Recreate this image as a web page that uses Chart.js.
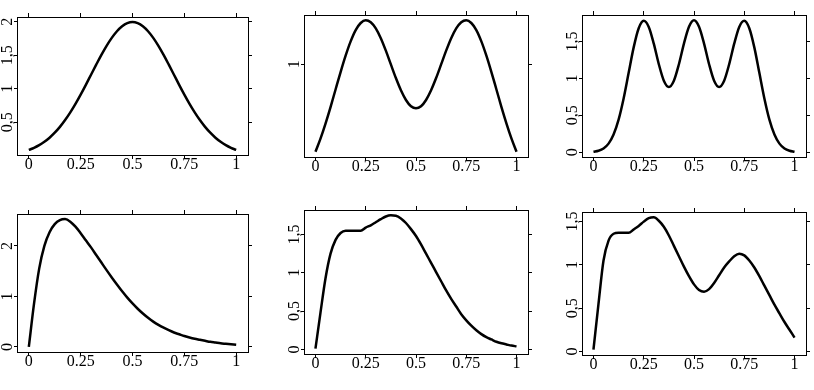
<!DOCTYPE html>
<html>
<head>
<meta charset="utf-8">
<script src="https://cdn.jsdelivr.net/npm/chart.js@4.4.0/dist/chart.umd.min.js"></script>
<style>
  body { margin: 0; background: #fff; }
  #wrap { position: relative; width: 814px; height: 390px; overflow: hidden; background: #fff; }
  #wrap canvas { position: absolute; }
</style>
</head>
<body>
<div id="wrap"></div>
<script>
// x grid shared by all six curves
const xs = [0, 0.025, 0.05, 0.075, 0.1, 0.125, 0.15, 0.175, 0.2, 0.225, 0.25, 0.275, 0.3, 0.325, 0.35, 0.375, 0.4,
  0.425, 0.45, 0.475, 0.5, 0.525, 0.55, 0.575, 0.6, 0.625, 0.65, 0.675, 0.7, 0.725, 0.75, 0.775, 0.8, 0.825, 0.85,
  0.875, 0.9, 0.925, 0.95, 0.975, 1];

// curve values
const gaussian = [0.088, 0.119, 0.159, 0.209, 0.270, 0.344, 0.431, 0.533, 0.648, 0.775, 0.913, 1.059, 1.210, 1.360,
  1.506, 1.641, 1.760, 1.859, 1.933, 1.979, 1.995, 1.979, 1.933, 1.859, 1.760, 1.641, 1.506, 1.360, 1.210, 1.059,
  0.913, 0.775, 0.648, 0.533, 0.431, 0.344, 0.270, 0.209, 0.159, 0.119, 0.088];
const bimodal = [0.332, 0.432, 0.547, 0.673, 0.807, 0.940, 1.065, 1.174, 1.260, 1.314, 1.335, 1.320, 1.273, 1.198,
  1.103, 0.998, 0.894, 0.801, 0.727, 0.679, 0.663, 0.679, 0.727, 0.801, 0.894, 0.998, 1.103, 1.198, 1.273, 1.320,
  1.335, 1.314, 1.260, 1.174, 1.065, 0.940, 0.807, 0.673, 0.547, 0.432, 0.332];
const trimodal = [0.007, 0.020, 0.051, 0.117, 0.240, 0.442, 0.729, 1.075, 1.420, 1.679, 1.780, 1.697, 1.470, 1.192,
  0.969, 0.884, 0.969, 1.192, 1.471, 1.699, 1.787, 1.699, 1.471, 1.192, 0.969, 0.884, 0.969, 1.192, 1.470, 1.697,
  1.780, 1.679, 1.420, 1.075, 0.729, 0.442, 0.240, 0.117, 0.051, 0.020, 0.007];
const skewed = [0.00, 0.85, 1.55, 2.00, 2.27, 2.43, 2.51, 2.53, 2.48, 2.38, 2.25, 2.11, 1.97, 1.82, 1.67, 1.52, 1.375,
  1.235, 1.10, 0.975, 0.86, 0.755, 0.66, 0.575, 0.50, 0.435, 0.38, 0.33, 0.285, 0.25, 0.215, 0.185, 0.16, 0.14, 0.12,
  0.10, 0.085, 0.07, 0.06, 0.05, 0.04];
const plateau = [0.01, 0.48, 0.93, 1.25, 1.43, 1.52, 1.55, 1.55, 1.55, 1.55, 1.59, 1.62, 1.66, 1.70, 1.735, 1.75,
  1.745, 1.71, 1.65, 1.57, 1.48, 1.37, 1.25, 1.13, 1.01, 0.89, 0.77, 0.66, 0.56, 0.46, 0.38, 0.31, 0.25, 0.20, 0.16,
  0.13, 0.10, 0.08, 0.065, 0.05, 0.04];
const bumpy = [0.02, 0.55, 1.05, 1.28, 1.36, 1.37, 1.37, 1.37, 1.41, 1.45, 1.50, 1.54, 1.55, 1.51, 1.44, 1.34, 1.22,
  1.10, 0.98, 0.87, 0.775, 0.71, 0.69, 0.72, 0.79, 0.88, 0.97, 1.04, 1.10, 1.13, 1.11, 1.05, 0.97, 0.87, 0.76, 0.65,
  0.54, 0.44, 0.34, 0.25, 0.16];

// tick values
const xTicks = [0, 0.25, 0.5, 0.75, 1];
const yTicksGaussian = [0.5, 1, 1.5, 2];
const yTicksBimodal = [1];
const yTicksHalf = [0, 0.5, 1, 1.5];
const yTicksSkewed = [0, 1, 2];

// plot boxes on the page: [left, top, right, bottom]
const panels = [
  { values: gaussian, yTicks: yTicksGaussian, box: [17, 17, 248, 155], labelPad: -3.7 },
  { values: bimodal, yTicks: yTicksBimodal, box: [304, 15, 528, 157], labelPad: 2.3 },
  { values: trimodal, yTicks: yTicksHalf, box: [582, 15, 806, 157], labelPad: -3.7 },
  { values: skewed, yTicks: yTicksSkewed, box: [17, 214, 248, 352], labelPad: 2.3 },
  { values: plateau, yTicks: yTicksHalf, box: [304, 210, 528, 354], labelPad: -3.7 },
  { values: bumpy, yTicks: yTicksHalf, box: [582, 212, 806, 355], labelPad: -3.7 }
];

const LEFT = 22, TOP = 14, RIGHT = 14, BOTTOM = 26;
const X_MIN = -0.057, X_MAX = 1.057;

Chart.defaults.font.family = "'Liberation Serif', 'Times New Roman', serif";
Chart.defaults.font.size = 16;
Chart.defaults.color = '#000';

function setTicks(list) {
  return scale => { scale.ticks = list.map(v => ({ value: v })); };
}

function frame(tickLen) {
  return {
    grid: { display: true, drawOnChartArea: false, drawTicks: true, tickLength: tickLen, color: '#000', lineWidth: 1 },
    border: { display: true, color: '#000', width: 1 }
  };
}

const wrap = document.getElementById('wrap');

panels.forEach(p => {
  const [x0, y0, x1, y1] = p.box;
  const w = x1 - x0 + LEFT + RIGHT;
  const h = y1 - y0 + TOP + BOTTOM;
  const canvas = document.createElement('canvas');
  canvas.width = w;
  canvas.height = h;
  canvas.style.left = (x0 - LEFT) + 'px';
  canvas.style.top = (y0 - TOP) + 'px';
  canvas.style.width = w + 'px';
  canvas.style.height = h + 'px';
  wrap.appendChild(canvas);

  // R style range: data range plus 4% each side
  const lo = Math.min(...p.values), hi = Math.max(...p.values);
  const yMin = lo - 0.04 * (hi - lo), yMax = hi + 0.04 * (hi - lo);

  new Chart(canvas, {
    type: 'line',
    data: {
      datasets: [{
        data: xs.map((x, i) => ({ x: x, y: p.values[i] })),
        borderColor: '#000',
        borderWidth: 2.5,
        pointRadius: 0,
        fill: false,
        cubicInterpolationMode: 'monotone'
      }]
    },
    options: {
      responsive: false,
      animation: false,
      devicePixelRatio: 1,
      layout: { padding: { top: TOP - 4, right: RIGHT - 4, left: 0, bottom: 0 } },
      plugins: { legend: { display: false }, tooltip: { enabled: false } },
      scales: {
        x: {
          type: 'linear', position: 'bottom', min: X_MIN, max: X_MAX, bounds: 'data',
          afterBuildTicks: setTicks(xTicks),
          afterFit: s => { s.height = BOTTOM; },
          ticks: { callback: v => String(v), padding: -3.6, maxRotation: 0, autoSkip: false },
          ...frame(4)
        },
        xTop: {
          type: 'linear', position: 'top', min: X_MIN, max: X_MAX, bounds: 'data',
          afterBuildTicks: setTicks(xTicks),
          afterFit: s => { s.height = 4; },
          ticks: { display: false },
          ...frame(4)
        },
        y: {
          type: 'linear', position: 'left', min: yMin, max: yMax, bounds: 'data',
          afterBuildTicks: setTicks(p.yTicks),
          afterFit: s => { s.width = LEFT; },
          ticks: {
            callback: v => String(v).replace('.', ','),
            minRotation: 90, maxRotation: 90, crossAlign: 'center',
            padding: p.labelPad, autoSkip: false
          },
          ...frame(3)
        },
        yRight: {
          type: 'linear', position: 'right', min: yMin, max: yMax, bounds: 'data',
          afterBuildTicks: setTicks(p.yTicks),
          afterFit: s => { s.width = 4; },
          ticks: { display: false },
          ...frame(4)
        }
      }
    }
  });
});
</script>
</body>
</html>
